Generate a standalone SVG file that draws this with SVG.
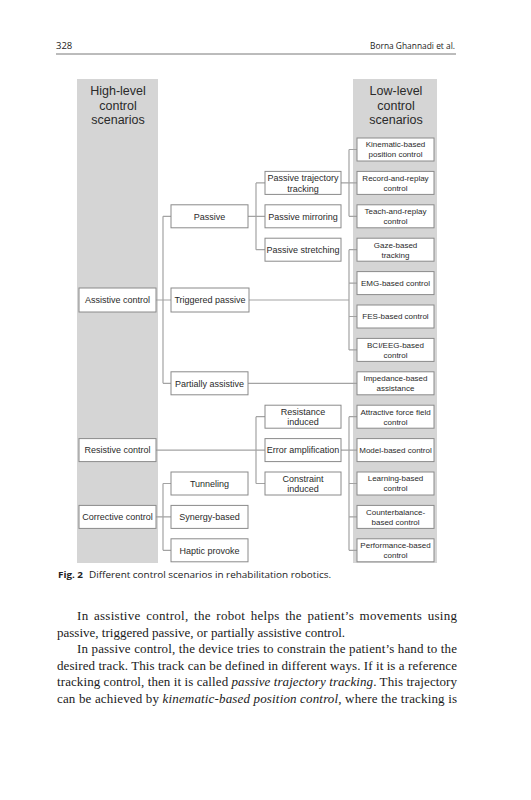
<svg xmlns="http://www.w3.org/2000/svg" width="531" height="800" viewBox="0 0 531 800">
<style>
.bg{fill:#ffffff}
.col{fill:#d5d5d5}
.box{fill:#ffffff;stroke:#8a8a8a;stroke-width:1}
.hd{font-family:"Liberation Sans",Arial,sans-serif;font-size:12.5px;fill:#2a2a2a;text-anchor:middle}
.t9{font-family:"Liberation Sans",Arial,sans-serif;font-size:9px;fill:#2a2a2a;text-anchor:middle}
.t8{font-family:"Liberation Sans",Arial,sans-serif;font-size:8px;fill:#2a2a2a;text-anchor:middle}
.con{fill:none;stroke:#a3a3a3;stroke-width:1.2}
.page{font-family:"Open Sans","Liberation Sans",sans-serif;font-size:9.5px;fill:#222}
.body{font-family:"Liberation Serif","Times New Roman",serif;font-size:13px;fill:#1a1a1a}
</style>
<rect class="bg" x="0" y="0" width="531" height="800"/>
<g id="header">
<text class="page" x="56" y="49" font-size="10">328</text>
<text class="page" x="455" y="49" text-anchor="end" textLength="85" lengthAdjust="spacingAndGlyphs">Borna Ghannadi et al.</text>
<line x1="56" y1="54" x2="456" y2="54" stroke="#555" stroke-width="0.8"/>
</g>
<g id="columns">
<rect class="col" x="77" y="79" width="81" height="484"/>
<rect class="col" x="353" y="79" width="84" height="484"/>
<text class="hd" x="118" y="95">High-level</text>
<text class="hd" x="118" y="109.5">control</text>
<text class="hd" x="118" y="124">scenarios</text>
<text class="hd" x="396" y="95">Low-level</text>
<text class="hd" x="396" y="109.5">control</text>
<text class="hd" x="396" y="124">scenarios</text>
</g>
<g id="connectors">
<path class="con" d="M156 300H163M163 216.3V383.3M163 216.3H171M163 300H171M163 383.3H171"/>
<path class="con" d="M248 216.3H256M256 182.9V249.7M256 182.9H265M256 216.3H265M256 249.7H265"/>
<path class="con" d="M341 182.9H349M349 149.5V216.3M349 149.5H357M349 182.9H357M349 216.3H357"/>
<path class="con" d="M249 300H349M349 249.7V349.9M349 249.7H357M349 283.1H357M349 316.5H357M349 349.9H357"/>
<path class="con" d="M248 383.3H357"/>
<path class="con" d="M156 450.1H256M256 416.7V483.5M256 416.7H265M256 450.1H265M256 483.5H265"/>
<path class="con" d="M341 450.1H349M349 416.7V550.3M349 416.7H357M349 450.1H357M349 483.5H357M349 516.9H357M349 550.3H357"/>
<path class="con" d="M156 516.9H163M163 483.5V550.3M163 483.5H171M163 516.9H171M163 550.3H171"/>
</g>
<g id="assistive"><rect class="box" x="79" y="288" width="77" height="24"/><text class="t9" x="117.5" y="303.2">Assistive control</text></g>
<g id="resistive"><rect class="box" x="79" y="438.6" width="77" height="23"/><text class="t9" x="117.5" y="453.3">Resistive control</text></g>
<g id="corrective"><rect class="box" x="79" y="505.4" width="77" height="23"/><text class="t9" x="117.5" y="520.1">Corrective control</text></g>
<g id="passive"><rect class="box" x="171" y="204.8" width="77" height="23"/><text class="t9" x="209.5" y="219.5">Passive</text></g>
<g id="triggered"><rect class="box" x="171" y="288" width="78" height="24"/><text class="t9" x="210" y="303.2">Triggered passive</text></g>
<g id="partially"><rect class="box" x="171" y="371.8" width="77" height="23"/><text class="t9" x="209.5" y="386.5">Partially assistive</text></g>
<g id="tunneling"><rect class="box" x="171" y="472" width="77" height="23"/><text class="t9" x="209.5" y="486.7">Tunneling</text></g>
<g id="synergy"><rect class="box" x="171" y="505.4" width="77" height="23"/><text class="t9" x="209.5" y="520.1">Synergy-based</text></g>
<g id="haptic"><rect class="box" x="171" y="538.8" width="77" height="23"/><text class="t9" x="209.5" y="553.5">Haptic provoke</text></g>
<g id="ptt"><rect class="box" x="265" y="171.4" width="76" height="23"/><text class="t9" x="303" y="181">Passive trajectory</text><text class="t9" x="303" y="191.5">tracking</text></g>
<g id="pmirror"><rect class="box" x="265" y="204.8" width="76" height="23"/><text class="t9" x="303" y="219.5">Passive mirroring</text></g>
<g id="pstretch"><rect class="box" x="265" y="238.2" width="76" height="23"/><text class="t9" x="303" y="252.9">Passive stretching</text></g>
<g id="resind"><rect class="box" x="265" y="405.2" width="76" height="23"/><text class="t9" x="303" y="414.8">Resistance</text><text class="t9" x="303" y="425.3">induced</text></g>
<g id="erramp"><rect class="box" x="265" y="438.6" width="76" height="23"/><text class="t9" x="303" y="453.3">Error amplification</text></g>
<g id="conind"><rect class="box" x="265" y="472" width="76" height="23"/><text class="t9" x="303" y="481.6">Constraint</text><text class="t9" x="303" y="492.1">induced</text></g>
<g id="kin"><rect class="box" x="357" y="138" width="77" height="23"/><text class="t8" x="395.5" y="147.3">Kinematic-based</text><text class="t8" x="395.5" y="157.3">position control</text></g>
<g id="rec"><rect class="box" x="357" y="171.4" width="77" height="23"/><text class="t8" x="395.5" y="180.7">Record-and-replay</text><text class="t8" x="395.5" y="190.7">control</text></g>
<g id="teach"><rect class="box" x="357" y="204.8" width="77" height="23"/><text class="t8" x="395.5" y="214.1">Teach-and-replay</text><text class="t8" x="395.5" y="224.1">control</text></g>
<g id="gaze"><rect class="box" x="357" y="238.2" width="77" height="23"/><text class="t8" x="395.5" y="247.5">Gaze-based</text><text class="t8" x="395.5" y="257.5">tracking</text></g>
<g id="emg"><rect class="box" x="357" y="271.6" width="77" height="23"/><text class="t8" x="395.5" y="286">EMG-based control</text></g>
<g id="fes"><rect class="box" x="357" y="305" width="77" height="23"/><text class="t8" x="395.5" y="319.4">FES-based control</text></g>
<g id="bci"><rect class="box" x="357" y="338.4" width="77" height="23"/><text class="t8" x="395.5" y="347.7">BCI/EEG-based</text><text class="t8" x="395.5" y="357.7">control</text></g>
<g id="imp"><rect class="box" x="357" y="371.8" width="77" height="23"/><text class="t8" x="395.5" y="381.1">Impedance-based</text><text class="t8" x="395.5" y="391.1">assistance</text></g>
<g id="attr"><rect class="box" x="357" y="405.2" width="77" height="23"/><text class="t8" x="395.5" y="414.5">Attractive force field</text><text class="t8" x="395.5" y="424.5">control</text></g>
<g id="model"><rect class="box" x="357" y="438.6" width="77" height="23"/><text class="t8" x="395.5" y="453">Model-based control</text></g>
<g id="learn"><rect class="box" x="357" y="472" width="77" height="23"/><text class="t8" x="395.5" y="481.3">Learning-based</text><text class="t8" x="395.5" y="491.3">control</text></g>
<g id="counter"><rect class="box" x="357" y="505.4" width="77" height="23"/><text class="t8" x="395.5" y="514.7">Counterbalance-</text><text class="t8" x="395.5" y="524.7">based control</text></g>
<g id="perf"><rect class="box" x="357" y="538.8" width="77" height="23"/><text class="t8" x="395.5" y="548.1">Performance-based</text><text class="t8" x="395.5" y="558.1">control</text></g>
<g id="caption">
<text class="page" x="58" y="578" font-weight="bold" textLength="25" lengthAdjust="spacingAndGlyphs">Fig. 2</text>
<text class="page" x="89" y="578" textLength="242" lengthAdjust="spacingAndGlyphs">Different control scenarios in rehabilitation robotics.</text>
</g>
<g id="bodytext">
<text class="body" x="77" y="620" textLength="380" lengthAdjust="spacing" word-spacing="2">In assistive control, the robot helps the patient’s movements using</text>
<text class="body" x="57" y="636.5" textLength="288" lengthAdjust="spacing">passive, triggered passive, or partially assistive control.</text>
<text class="body" x="77" y="653" textLength="380" lengthAdjust="spacing">In passive control, the device tries to constrain the patient’s hand to the</text>
<text class="body" x="57" y="669.5" textLength="400" lengthAdjust="spacing">desired track. This track can be defined in different ways. If it is a reference</text>
<text class="body" x="57" y="686" textLength="400" lengthAdjust="spacing">tracking control, then it is called <tspan font-style="italic">passive trajectory tracking</tspan>. This trajectory</text>
<text class="body" x="57" y="702.5" textLength="400" lengthAdjust="spacing">can be achieved by <tspan font-style="italic">kinematic-based position control</tspan>, where the tracking is</text>
</g>
</svg>
